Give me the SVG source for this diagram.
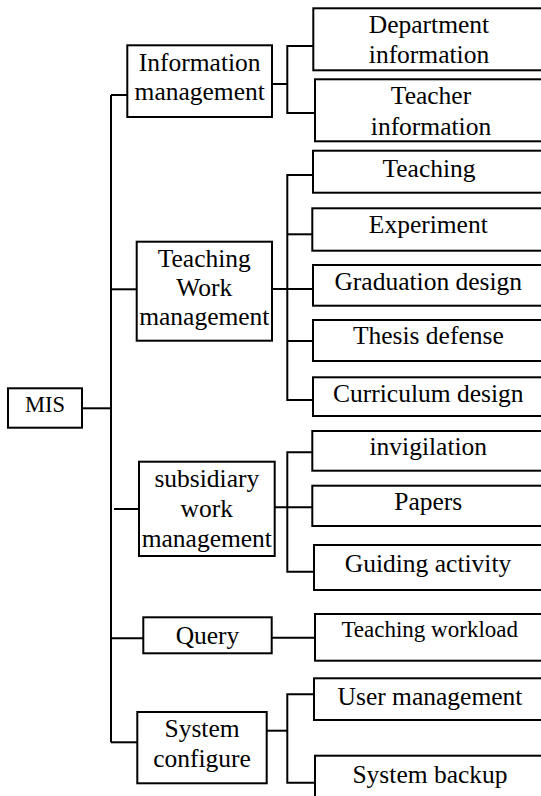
<svg xmlns="http://www.w3.org/2000/svg" width="541" height="796" viewBox="0 0 541 796" font-family="'Liberation Serif', 'Times New Roman', Tinos, 'DejaVu Serif', serif">
<style>
.box{fill:#fff;stroke:#000;stroke-width:2}
.t{font-family:'Liberation Serif','Times New Roman',Tinos,'DejaVu Serif',serif;font-size:25.5px;fill:#000;text-anchor:middle}
.s{font-size:23px}
.m{font-size:22.5px}
.c{fill:none;stroke:#000;stroke-width:2}
</style>
<rect width="541" height="796" fill="#fff"/>
<g id="connectors" class="c">
<path d="M111,95 V742.3"/>
<path d="M111,95 H127.3"/>
<path d="M82,408.3 H111"/>
<path d="M111,289.3 H136.7"/>
<path d="M114,509 H139"/>
<path d="M111,638.3 H143.3"/>
<path d="M111,742.3 H137.3"/>
<path d="M272,84 H287.3"/>
<path d="M313.3,46 H287.3 V113 H315"/>
<path d="M272,289 H313"/>
<path d="M313,175 H287.3 V400 H313"/>
<path d="M287.3,234.3 H313"/>
<path d="M287.3,341 H313"/>
<path d="M274.7,507.3 H313"/>
<path d="M312.3,452.3 H287.3 V571.7 H314"/>
<path d="M271.7,637.7 H315"/>
<path d="M266.7,730.7 H287.3"/>
<path d="M314,694.3 H287.3 V782.7 H315"/>
</g>
<g id="mis"><rect class="box" x="8" y="388.3" width="74" height="39.4"/><text class="t m" x="45" y="411.7">MIS</text></g>
<g id="info-mgmt"><rect class="box" x="127.3" y="45.3" width="144.7" height="71.7"/><text class="t" x="199.7" y="71">Information</text><text class="t" x="199.7" y="100">management</text></g>
<g id="teaching-work-mgmt"><rect class="box" x="136.7" y="241.7" width="135.3" height="99"/><text class="t" x="204.3" y="266.7">Teaching</text><text class="t" x="204.3" y="295.7">Work</text><text class="t" x="204.3" y="325">management</text></g>
<g id="subsidiary-work-mgmt"><rect class="box" x="139" y="461.7" width="135.7" height="94.3"/><text class="t" x="206.8" y="487.3">subsidiary</text><text class="t" x="206.8" y="516.7">work</text><text class="t" x="206.8" y="546.7">management</text></g>
<g id="query"><rect class="box" x="143.3" y="617.3" width="128.4" height="36"/><text class="t" x="207.5" y="644">Query</text></g>
<g id="system-configure"><rect class="box" x="137.3" y="712" width="129.4" height="71.3"/><text class="t" x="202" y="737.3">System</text><text class="t" x="202" y="766.7">configure</text></g>
<g id="department-info"><rect class="box" x="313.3" y="8.3" width="260" height="62"/><text class="t" x="429" y="33">Department</text><text class="t" x="429" y="63">information</text></g>
<g id="teacher-info"><rect class="box" x="315" y="79.3" width="260" height="62"/><text class="t" x="431" y="104">Teacher</text><text class="t" x="431" y="135">information</text></g>
<g id="teaching"><rect class="box" x="313" y="150.7" width="260" height="42"/><text class="t" x="429" y="176.5">Teaching</text></g>
<g id="experiment"><rect class="box" x="312.3" y="208.3" width="260" height="42.4"/><text class="t" x="428.3" y="233.3">Experiment</text></g>
<g id="graduation-design"><rect class="box" x="313" y="265" width="260" height="40.7"/><text class="t" x="428.3" y="290">Graduation design</text></g>
<g id="thesis-defense"><rect class="box" x="313" y="320" width="260" height="41"/><text class="t" x="428.3" y="344">Thesis defense</text></g>
<g id="curriculum-design"><rect class="box" x="313" y="377.3" width="260" height="38.7"/><text class="t" x="428.3" y="401.7">Curriculum design</text></g>
<g id="invigilation"><rect class="box" x="312.3" y="431" width="260" height="39.7"/><text class="t" x="428.3" y="455">invigilation</text></g>
<g id="papers"><rect class="box" x="312.3" y="485.7" width="260" height="40.3"/><text class="t" x="428.3" y="510">Papers</text></g>
<g id="guiding-activity"><rect class="box" x="314" y="545" width="260" height="45"/><text class="t" x="428" y="571.7">Guiding activity</text></g>
<g id="teaching-workload"><rect class="box" x="315" y="614" width="260" height="46.7"/><text class="t s" x="429.7" y="636.7">Teaching workload</text></g>
<g id="user-management"><rect class="box" x="314" y="678.3" width="260" height="41.7"/><text class="t" x="430" y="705">User management</text></g>
<g id="system-backup"><rect class="box" x="315" y="755.7" width="260" height="60"/><text class="t" x="430" y="783.3">System backup</text></g>
</svg>
